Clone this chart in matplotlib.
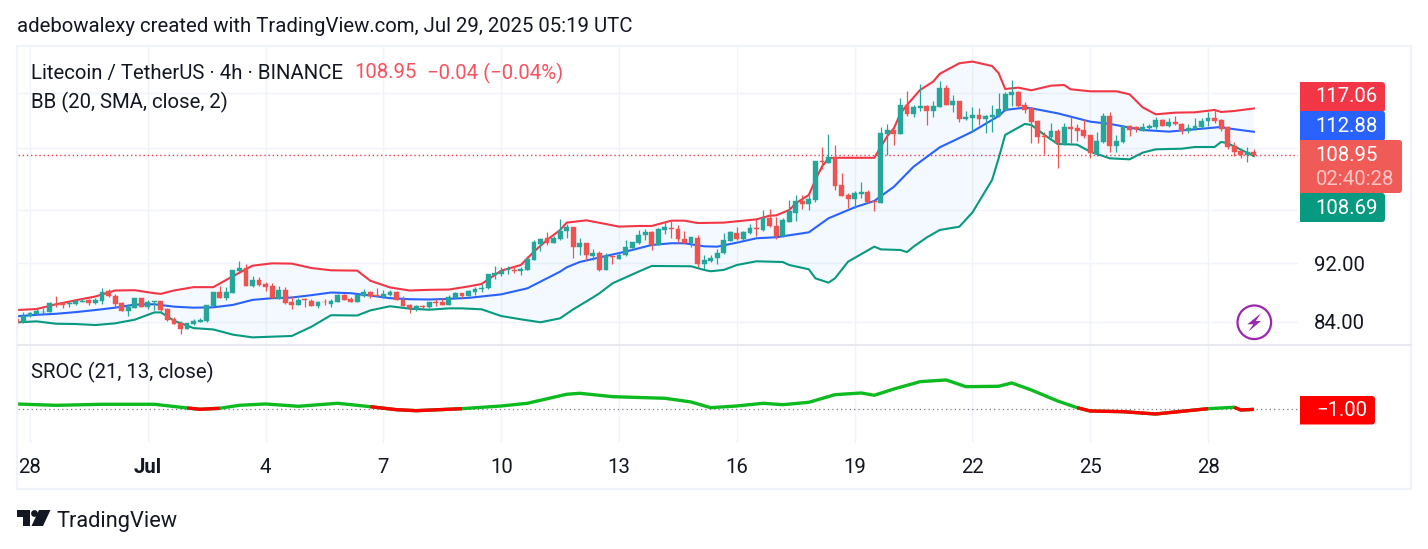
import matplotlib
matplotlib.use("Agg")
import matplotlib.pyplot as plt
from matplotlib.patches import Circle, Polygon, Rectangle
import numpy as np

W, H = 1428, 549

# 4h candles, first one is two bars before Jun 28 00:00
opens = [84.29,83.98,84.74,84.97,85.20,85.29,86.33,86.43,86.29,86.33,
         86.65,86.83,86.47,86.74,88.11,87.43,86.43,85.42,85.83,87.15,
         85.97,86.61,86.74,85.65,84.37,83.85,83.01,83.67,83.98,84.11,
         86.06,87.97,87.11,87.84,90.88,91.35,88.81,89.65,89.09,88.81,
         87.06,88.25,86.61,86.20,86.97,86.74,86.06,86.65,86.38,86.65,
         87.56,87.02,86.65,87.38,87.93,87.56,87.29,87.52,87.93,86.93,
         86.20,85.65,86.06,85.92,86.65,86.65,86.20,87.11,87.79,87.43,
         88.02,88.36,88.45,90.36,90.50,91.07,91.07,90.83,91.07,92.51,
         94.81,95.66,94.91,95.46,96.71,97.27,94.31,94.86,93.09,93.53,
         91.07,93.00,92.65,93.14,94.26,94.91,96.06,96.51,94.61,96.81,
         97.22,97.06,95.56,94.96,95.71,91.83,92.31,92.70,93.43,95.21,
         96.46,95.46,96.41,97.16,96.86,98.66,97.53,95.96,98.15,99.53,
         101.41,100.93,101.57,107.86,107.58,108.49,103.90,102.30,101.72,102.53,
         102.79,101.35,101.08,112.49,113.20,112.49,117.70,116.00,117.21,117.52,
         116.60,117.39,120.86,117.70,118.43,115.16,115.33,115.87,115.16,115.57,
         115.69,116.73,119.55,120.11,117.70,117.15,114.86,112.15,111.92,113.02,
         110.76,113.73,113.56,113.20,112.33,109.05,111.11,115.69,110.41,111.11,
         113.91,113.73,113.08,113.62,113.68,114.98,113.91,114.62,114.27,113.02,
         113.32,113.68,114.80,115.33,114.98,113.73,110.41,109.55,108.88,109.38]
highs = [84.97,85.20,85.20,85.74,85.74,86.61,87.43,86.65,86.74,86.93,
         87.06,86.97,87.11,88.52,88.34,87.65,86.61,86.33,87.15,87.15,
         86.88,86.70,86.74,85.74,84.55,84.02,83.85,84.29,84.46,86.20,
         87.97,88.81,88.62,91.07,92.36,91.93,90.21,90.07,89.28,89.18,
         88.72,88.58,87.38,87.11,87.20,87.02,86.74,87.02,87.02,87.65,
         87.65,87.24,87.65,88.38,88.11,88.52,88.25,88.25,88.11,87.38,
         86.29,86.20,86.20,86.65,86.97,87.11,87.56,87.97,87.84,88.25,
         88.58,89.05,90.50,91.55,91.50,91.55,91.64,91.45,93.00,95.41,
         95.71,96.61,95.96,98.50,97.83,97.27,95.61,94.96,94.07,93.68,
         93.48,93.09,93.48,95.41,95.01,96.81,96.96,96.71,97.22,98.04,
         98.35,97.63,96.66,95.86,96.16,93.19,93.19,94.07,96.46,96.71,
         97.37,96.66,97.83,98.50,99.90,100.06,98.81,98.76,101.52,102.30,
         102.30,102.30,107.86,110.19,112.50,110.58,105.93,102.57,102.95,104.40,
         103.11,101.35,113.79,114.27,113.20,118.92,120.29,117.70,121.60,117.70,
         118.43,122.18,121.42,119.55,118.43,116.60,117.27,117.09,115.87,117.70,
         119.86,120.17,122.37,120.36,118.30,117.27,114.98,112.91,114.39,113.32,
         114.39,115.57,114.27,115.10,112.33,112.85,116.18,116.48,112.33,114.09,
         114.09,113.91,114.39,114.27,115.51,115.16,115.33,115.69,114.39,114.27,
         115.33,115.33,116.42,116.79,115.16,113.91,111.05,110.07,110.18,109.89]
lows = [83.10,83.85,84.60,84.83,84.97,85.20,85.97,85.83,85.97,86.20,
        86.61,86.20,86.33,86.33,87.24,85.97,85.33,84.74,85.79,85.92,
        85.70,85.56,85.29,84.07,83.63,82.35,82.97,83.58,83.93,83.98,
        86.02,87.15,86.88,87.79,90.79,88.81,88.67,88.81,88.11,87.11,
        87.02,86.38,85.70,86.15,85.97,86.02,85.79,86.15,85.97,86.61,
        86.83,86.61,86.61,87.29,87.15,87.29,87.20,87.43,86.88,86.02,
        85.11,85.38,85.61,85.83,86.06,86.15,86.15,87.02,87.11,87.34,
        87.56,87.99,88.40,89.79,90.12,90.41,90.60,90.36,91.07,92.51,
        93.68,94.66,94.86,95.41,95.61,92.80,93.24,92.51,92.41,90.83,
        91.07,91.92,92.61,93.09,94.16,94.81,95.31,93.97,94.56,96.21,
        95.61,94.96,94.91,94.31,91.45,91.21,92.11,91.88,93.38,95.16,
        95.31,95.41,96.21,95.96,96.71,97.32,95.56,95.86,98.10,98.25,
        100.10,99.94,101.20,106.47,107.58,103.09,102.14,100.20,100.20,101.77,
        101.09,99.83,101.08,108.93,110.59,112.49,115.75,115.57,116.60,114.09,
        115.57,117.33,117.64,116.42,114.68,114.98,112.91,114.09,112.61,112.85,
        115.57,116.66,117.52,117.39,116.18,110.93,110.93,109.05,111.80,106.69,
        110.64,110.88,111.22,111.74,108.31,108.71,110.93,109.38,109.44,110.99,
        112.15,112.85,113.02,113.32,113.38,113.85,113.79,114.09,112.49,112.73,
        113.20,113.62,113.91,114.50,113.02,109.89,108.71,108.43,107.70,108.71]
closes = [83.85,84.74,85.06,85.38,85.29,86.43,86.20,86.20,86.47,86.74,
          86.74,86.47,86.88,87.93,87.34,86.33,85.42,85.97,87.15,85.97,
          86.61,86.70,85.47,84.20,83.67,83.01,83.80,84.11,84.20,86.20,
          87.97,87.15,87.97,91.07,91.35,88.81,89.65,88.95,88.62,87.15,
          88.25,86.52,86.20,86.88,86.88,86.06,86.61,86.56,86.74,87.56,
          86.88,86.65,87.56,87.93,87.34,87.34,87.70,88.02,86.93,86.11,
          85.74,86.02,85.97,86.61,86.52,86.20,87.24,87.84,87.43,88.11,
          88.38,88.50,90.50,90.60,90.88,91.17,90.93,91.17,92.61,95.01,
          95.56,94.86,95.61,96.76,97.27,94.31,94.86,93.14,93.48,91.07,
          93.00,92.90,93.24,94.36,95.01,96.16,96.51,94.56,96.96,97.27,
          97.06,95.46,94.96,95.76,91.83,92.51,92.80,93.53,95.31,96.51,
          95.46,96.56,97.11,97.06,98.66,97.47,95.96,98.35,99.80,101.35,
          100.88,101.67,107.86,107.76,108.49,103.79,102.19,101.72,102.68,102.79,
          101.24,101.24,112.67,113.20,112.49,117.70,116.06,117.27,117.52,116.60,
          117.52,120.86,117.70,118.43,115.21,115.45,115.87,115.16,115.69,115.87,
          116.91,119.73,120.11,117.52,116.79,114.62,111.97,111.92,113.02,110.88,
          113.73,113.38,113.02,112.15,109.16,111.28,115.69,110.41,111.28,113.91,
          113.20,113.32,113.73,113.91,114.98,113.91,114.62,114.33,113.02,113.50,
          113.91,114.80,115.33,114.74,113.44,110.30,109.38,108.88,109.38,108.95]

# bollinger bands, each read at its own bars
upper_idx = [-2,1,4,7,10,13,16,19,20,22,25,28,31,34,37,40,43,46,50,52,55,58,61,64,67,69,72,75,77,79,
             81,82,85,88,90,93,95,98,100,102,106,111,113,114,116,117,119,120,121,122,123,129,131,132,
             133,134,136,138,139,142,144,147,148,149,151,153,156,158,159,162,166,168,170,172,175,178,
             181,182,184,187]
upper = [85.52,85.65,86.29,86.83,87.34,88.16,88.20,87.79,87.70,88.16,88.62,88.62,90.14,91.63,91.97,
         91.93,91.30,90.98,90.93,89.51,88.58,88.16,88.25,88.29,88.72,89.06,90.93,91.73,93.66,95.38,
         96.87,97.99,98.34,97.78,97.38,97.48,97.48,98.29,98.29,97.93,97.99,98.49,99.05,99.10,99.93,
         100.98,102.31,104.72,106.91,108.31,108.40,108.40,112.15,113.50,116.18,117.70,120.48,122.05,
         123.55,125.60,125.93,125.06,123.68,120.67,120.92,120.42,121.29,121.42,120.61,120.23,120.23,
         119.67,117.27,116.00,116.30,116.36,116.79,116.42,116.60,117.06]
basis_idx = [-2,1,4,7,10,13,16,19,22,25,28,31,34,37,40,43,46,49,52,55,58,61,64,67,72,76,81,82,84,88,
             91,95,98,100,103,105,108,111,114,119,122,126,129,132,135,139,142,144,148,149,152,153,157,
             162,165,170,174,178,182,183,187]
basis = [84.69,84.88,85.02,85.24,85.52,85.83,86.24,86.29,85.97,85.83,85.88,86.20,86.88,87.11,87.20,
         87.52,87.88,87.79,87.47,87.11,86.97,86.93,87.02,87.15,87.63,88.46,90.79,91.40,92.16,93.03,
         93.66,94.64,94.89,94.89,94.44,94.39,94.98,95.63,95.78,96.52,98.65,100.35,101.35,103.62,
         106.91,110.18,111.80,112.91,115.69,116.79,117.21,117.09,116.18,114.68,114.27,113.20,112.91,
         113.32,113.73,113.50,112.88]
lower_idx = [-2,1,4,7,10,13,16,19,20,22,25,28,31,34,37,40,43,46,50,52,55,58,61,64,66,69,72,75,78,81,
             83,86,87,89,93,95,101,103,104,106,108,111,115,116,119,120,122,123,125,129,130,133,134,
             135,137,139,142,144,147,148,149,152,153,155,157,160,162,163,165,168,170,172,176,178,181,
             182,183,187]
lower = [83.89,84.02,83.71,83.67,83.54,83.76,84.24,85.20,85.20,84.11,83.14,82.97,82.30,81.95,82.04,
         82.13,83.32,84.83,84.79,85.47,86.02,85.70,85.56,85.74,85.74,85.61,84.72,84.29,83.90,84.42,
         85.61,87.20,87.77,89.15,90.79,91.59,91.55,91.03,90.84,91.03,91.73,92.26,92.16,91.73,91.12,
         89.85,89.24,89.85,92.21,94.39,93.99,93.90,93.59,94.39,95.74,96.87,97.37,99.56,104.72,108.31,
         112.33,114.27,114.09,112.33,110.76,110.64,109.44,109.05,108.31,108.14,109.27,109.84,109.95,
         110.24,110.24,111.11,110.88,108.69]

# SROC pane
sroc_idx = [-2,4,11,19,24,26,29,32,36,41,47,52,56,59,66,72,76,82,84,89,97,101,104,108,112,115,119,
            123,127,129,132,136,140,143,148,150,153,157,160,162,167,172,180,184,185,187]
sroc = [2.6,1.7,2.4,2.4,-0.07,-0.93,-0.27,1.73,2.6,1.07,3.07,0.8,-1.2,-1.87,-0.53,1.27,3.07,9.07,
        9.73,7.47,6.4,3.93,0.13,1.27,3.07,2.13,3.73,8.8,9.93,8.4,12.6,17.47,18.6,14.13,14.4,16.6,
        11.93,4.6,0.13,-2.07,-2.53,-4.07,-0.53,0.4,-1.4,-1.0]
sroc_red = [(24, 29), (52, 66), (160, 180), (184, 187)]

price_ticks = [84, 92, 100, 110, 120]
price_labels = ["84.00", "92.00", "", "", ""]
date_ticks = [0, 18, 36, 54, 72, 90, 108, 126, 144, 162, 180]
date_labels = ["28", "Jul", "4", "7", "10", "13", "16", "19", "22", "25", "28"]

RED = "#EF5350"
TEAL = "#26A69A"
TEXT = "#131722"
GRID = "#F0F3FA"
FONT = 14.65

plt.rcParams["font.family"] = ["Roboto", "DejaVu Sans"]


def box(left, top, right, bottom):
    # axes rectangle from pixel edges
    return [left / W, 1 - bottom / H, (right - left) / W, (bottom - top) / H]


fig = plt.figure(figsize=(W / 100, H / 100), dpi=100, facecolor="white")
ax = fig.add_axes(box(18, 46, 1298, 344))
ax2 = fig.add_axes(box(18, 345, 1298, 443))

# bar 0 sits at x=30 and bars are 6.545 px apart
xlim = (-1.833, 193.74)

ax.set_yscale("log")
ax.set_xlim(*xlim)
ax.set_ylim(81.11, 129.02)
ax.set_yticks(price_ticks)
ax.set_yticklabels(price_labels)
ax.minorticks_off()
ax.yaxis.tick_right()
ax.set_xticks(date_ticks)
ax.set_xticklabels([])
ax.tick_params(axis="both", length=0, colors=TEXT, labelsize=FONT, pad=11.5)
ax.grid(True, color=GRID, linewidth=1.0)
ax.set_axisbelow(True)
for spine in ax.spines.values():
    spine.set_visible(False)

# band fill, then the three lines
ax.fill(upper_idx + lower_idx[::-1], upper + lower[::-1], color="#2196F3", alpha=0.05, linewidth=0)
ax.plot(upper_idx, upper, color="#F23645", linewidth=1.5, zorder=2)
ax.plot(basis_idx, basis, color="#2962FF", linewidth=1.5, zorder=2)
ax.plot(lower_idx, lower, color="#089981", linewidth=1.5, zorder=2)

bars = np.arange(-2, 188)
colors = [RED if c < o else TEAL for o, c in zip(opens, closes)]
ax.vlines(bars, lows, highs, colors=colors, linewidth=0.9, zorder=3)
ax.bar(bars, np.array(closes) - np.array(opens), bottom=opens, width=0.74, color=colors,
       edgecolor=colors, linewidth=0.3, zorder=4)

ax.axhline(closes[-1], color="#F23645", linewidth=1.0, linestyle=(0, (1, 2)), zorder=1)

ax2.set_xlim(*xlim)
ax2.set_ylim(-23.4, 41.9)
ax2.set_yticks([])
ax2.set_xticks(date_ticks)
ax2.set_xticklabels(date_labels)
ax2.tick_params(axis="x", length=0, colors=TEXT, labelsize=FONT, pad=11)
ax2.get_xticklabels()[1].set_fontweight("bold")
ax2.grid(True, axis="x", color=GRID, linewidth=1.0)
ax2.set_axisbelow(True)
for spine in ax2.spines.values():
    spine.set_visible(False)

ax2.axhline(sroc[-1], color="#787B86", linewidth=0.9, linestyle=(0, (1, 2.5)), zorder=1)
ax2.plot(sroc_idx, sroc, color="#0DBB20", linewidth=2.4, zorder=2, solid_capstyle="butt")
sroc_x = np.array(sroc_idx)
sroc_y = np.array(sroc)
for start, end in sroc_red:
    keep = (sroc_x >= start) & (sroc_x <= end)
    ax2.plot(sroc_x[keep], sroc_y[keep], color="#FF0000", linewidth=2.4, zorder=3, solid_capstyle="butt")

# everything below is placed in pixel coordinates on a transparent layer
ov = fig.add_axes([0, 0, 1, 1], facecolor="none")
ov.set_xlim(0, W)
ov.set_ylim(H, 0)
ov.axis("off")

ov.add_patch(Rectangle((17, 45.5), 1394, 443, fill=False, edgecolor=GRID, linewidth=1.6))
ov.plot([18, 1411], [344.5, 344.5], color="#E0E3EB", linewidth=1.1)


def tag(top, bottom, right, color):
    # label box, square on the left and rounded on the right
    r = 3
    a = np.linspace(0, np.pi / 2, 6)
    pts = [(1300, top)]
    pts += [(right - r + r * np.sin(t), top + r - r * np.cos(t)) for t in a]
    pts += [(right - r + r * np.cos(t), bottom - r + r * np.sin(t)) for t in a]
    pts += [(1300, bottom)]
    ov.add_patch(Polygon(pts, facecolor=color, edgecolor="none"))


tag(82, 112, 1385, "#F23645")
tag(111, 141, 1385, "#2962FF")
tag(193, 222, 1385, "#089981")
tag(140, 193, 1402, "#F05A57")
tag(396, 424.5, 1375, "#FF0000")

for y, label in [(97, "117.06"), (126, "112.88"), (155.5, "108.95"), (208, "108.69")]:
    ov.text(1315.5, y, label, color="white", fontsize=FONT, va="center", ha="left")
ov.text(1315.5, 179.5, "02:40:28", color="white", alpha=0.65, fontsize=FONT, va="center", ha="left")
ov.text(1367, 410.5, "\u22121.00", color="white", fontsize=FONT, va="center", ha="right")

ov.text(17, 27, "adebowalexy created with TradingView.com, Jul 29, 2025 05:19 UTC", color=TEXT,
        fontsize=FONT, va="center", ha="left")
ov.text(31, 73, "Litecoin / TetherUS \u00b7 4h \u00b7 BINANCE", color=TEXT, fontsize=FONT, va="center", ha="left")
ov.text(354, 73, "108.95", color="#F7525F", fontsize=FONT, va="center", ha="left")
ov.text(427, 73, "\u22120.04 (\u22120.04%)", color="#F7525F", fontsize=FONT, va="center", ha="left")
ov.text(31, 102, "BB (20, SMA, close, 2)", color=TEXT, fontsize=FONT, va="center", ha="left")
ov.text(31, 372, "SROC (21, 13, close)", color=TEXT, fontsize=FONT, va="center", ha="left")
ov.text(56.5, 521, "TradingView", color=TEXT, fontsize=15.7, va="center", ha="left")

# logo
ov.add_patch(Polygon([(17, 510), (30, 510), (30, 526), (23, 526), (23, 517), (17, 517)], color=TEXT, linewidth=0))
ov.add_patch(Circle((34.5, 513.5), 3.4, color=TEXT, linewidth=0))
ov.add_patch(Polygon([(39, 510), (50.5, 510), (43, 526), (31.5, 526)], color=TEXT, linewidth=0))

# lightning badge
ov.add_patch(Circle((1254.3, 322.3), 16.8, facecolor="white", edgecolor="#9C27B0", linewidth=1.6))
ov.add_patch(Polygon([(1261, 313.3), (1247.3, 324.3), (1253.3, 324.3), (1248.3, 331.7), (1261, 321), (1255.7, 321)],
                     color="#9C27B0", linewidth=0))

fig.savefig("out.png", dpi=100)
